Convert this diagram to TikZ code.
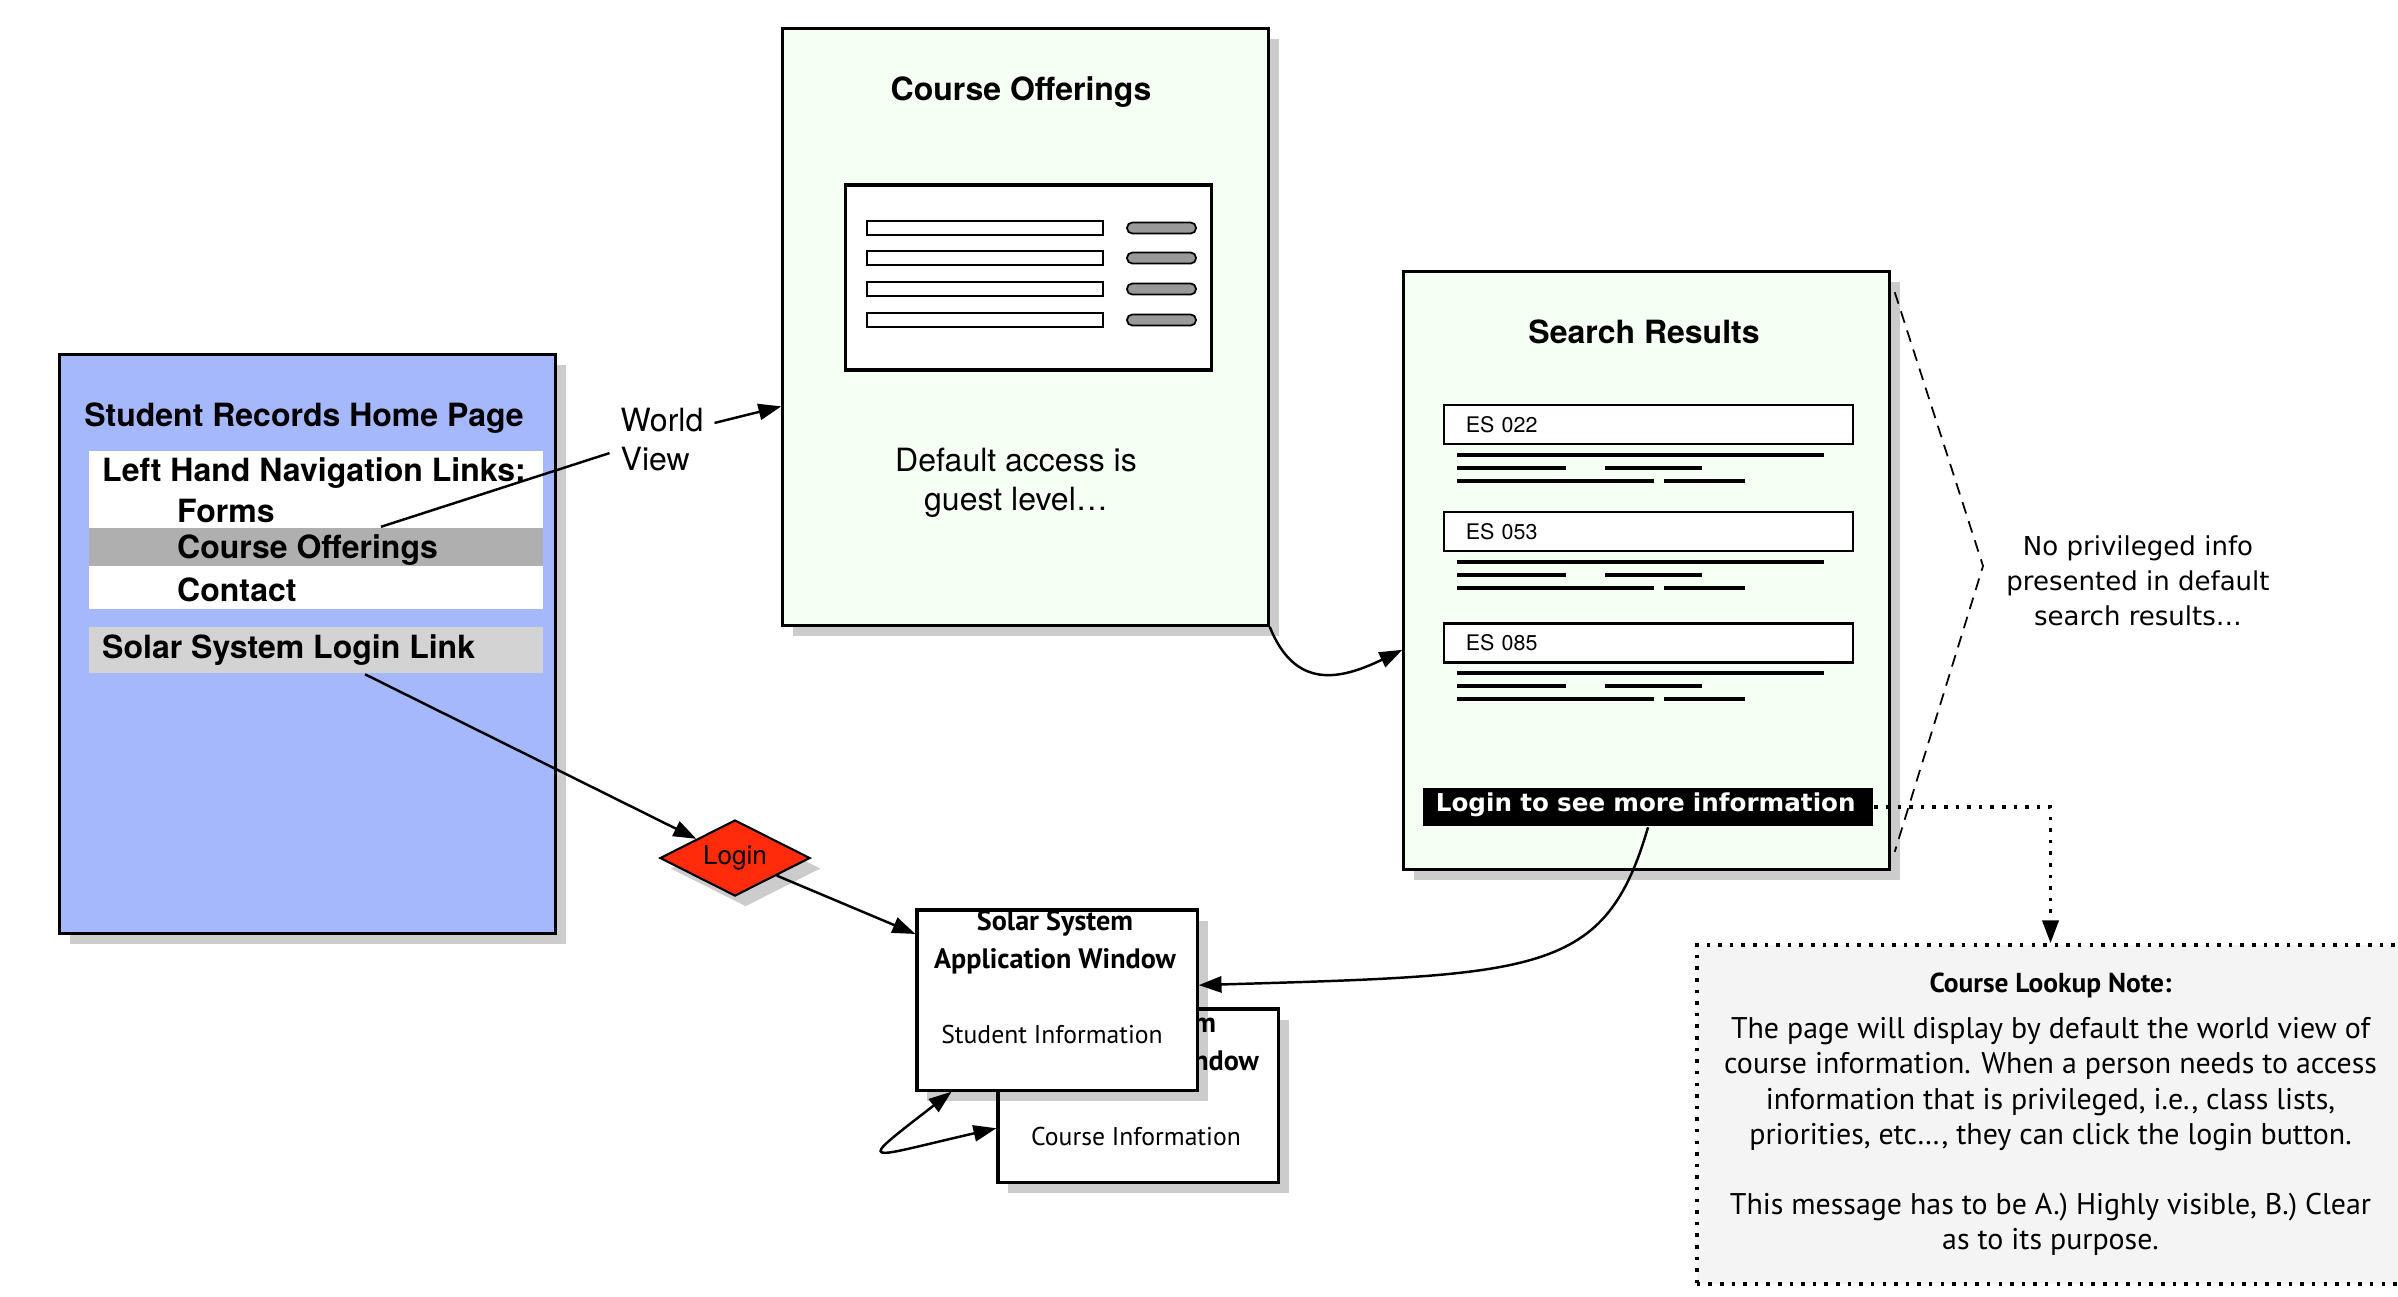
\documentclass[tikz,border=0pt]{standalone}
\usepackage{fontspec}
\setmainfont{TeX Gyre Heros}
\newfontfamily\lucidafont{DejaVu Sans}
\newfontfamily\gillfont{PT Sans}
\usetikzlibrary{shapes.geometric,shadows,arrows.meta,calc}

\definecolor{homeblue}{HTML}{A6B8FC}
\definecolor{pagegreen}{HTML}{F6FFF4}
\definecolor{rowgray}{HTML}{AFAFAF}
\definecolor{linkgray}{HTML}{D3D3D3}
\definecolor{pillgray}{HTML}{999999}
\definecolor{notegray}{HTML}{F4F4F4}
\definecolor{loginred}{HTML}{FF2B0A}

\newcommand{\hvbig}{\fontsize{9.1}{11.1}\selectfont}
\newcommand{\hvsmall}{\fontsize{6.1}{7.3}\selectfont}
\newcommand{\wintext}{\gillfont\fontsize{7.3}{10.8}\selectfont}
\newcommand{\wintitle}{\gillfont\bfseries\fontsize{8}{10.8}\selectfont}
\newcommand{\notetext}{\gillfont\fontsize{8.5}{10}\selectfont}

\tikzset{
  pageshadow/.style={drop shadow={shadow xshift=3pt,shadow yshift=-3pt,fill=black,opacity=0.2}},
  webpage/.style={draw,line width=0.9pt,fill=pagegreen,inner sep=0,pageshadow},
  homepage/.style={draw,line width=0.9pt,fill=homeblue,inner sep=0,pageshadow},
  appwindow/.style={draw,line width=0.9pt,fill=white,inner sep=0,
    minimum width=2.8cm,pageshadow},
  navrowbox/.style={minimum width=4.54cm,inner sep=0},
  esbox/.style={draw,fill=white,line width=0.6pt,text width=3.65cm,inner xsep=0.22cm,
    inner ysep=0,minimum height=0.39cm,align=left,font=\hvsmall},
  field/.style={draw,fill=white,line width=0.5pt},
  pill/.style={draw,fill=pillgray,line width=0.5pt,rounded corners=1.5pt},
  textline/.style={line width=0.9pt},
  loginbox/.style={diamond,draw,line width=0.6pt,fill=loginred,aspect=2,inner sep=0,
    minimum width=1.5cm,minimum height=0.76cm,font=\fontsize{7.4}{8}\selectfont,pageshadow},
  notebox/.style={draw,fill=notegray,dash pattern=on 1pt off 2.3pt,line width=1pt,
    align=center,font=\notetext},
  notelink/.style={dash pattern=on 1pt off 2.3pt,line width=1pt},
  bracket/.style={dash pattern=on 3.4pt off 2.3pt,line width=0.5pt}
}

\begin{document}
\begin{tikzpicture}[x=0.01cm,y=-0.01cm,>={Triangle[length=6.5pt,width=4.6pt]},line width=0.7pt]
  \useasboundingbox (0,0) rectangle (2398,1296);

  % student records home page
  \node[homepage,minimum width=4.95cm,minimum height=5.78cm] (home) at (307.5,644) {};
  \node[font=\hvbig\bfseries] (hometitle) at (304,418) {Student Records Home Page};
  \node[navrowbox,fill=white,minimum height=1.58cm] (navpanel) at (316,530) {};
  \node[navrowbox,fill=rowgray,minimum height=0.38cm] (navrow) at (316,547) {};
  \node[navrowbox,fill=linkgray,minimum height=0.46cm] (sslink) at (316,650) {};
  \node[anchor=west,inner sep=0,font=\hvbig\bfseries] (navhead) at (101,473) {Left Hand Navigation Links:};
  \node[anchor=west,inner sep=0,font=\hvbig\bfseries] (navforms) at (176,511) {Forms};
  \node[anchor=west,inner sep=0,font=\hvbig\bfseries] (navcourse) at (176,550) {Course Offerings};
  \node[anchor=west,inner sep=0,font=\hvbig\bfseries] (navcontact) at (176,590) {Contact};
  \node[anchor=west,inner sep=0,font=\hvbig\bfseries] (sslinktxt) at (101,650) {Solar System Login Link};

  % course offerings page
  \node[webpage,minimum width=4.85cm,minimum height=5.96cm] (offer) at (1025.5,327) {};
  \node[font=\hvbig\bfseries] (offertitle) at (1021,92) {Course Offerings};
  \node[draw,fill=white,line width=0.9pt,inner sep=0,minimum width=3.65cm,minimum height=1.85cm] (listwin) at (1028.5,277.5) {};
  \draw[field] (867,221) rectangle (1103,235);
  \draw[field] (867,251) rectangle (1103,265);
  \draw[field] (867,282) rectangle (1103,296);
  \draw[field] (867,313) rectangle (1103,327);
  \draw[pill] (1127,222.5) rectangle (1196,233.5);
  \draw[pill] (1127,252.5) rectangle (1196,263.5);
  \draw[pill] (1127,283.5) rectangle (1196,294.5);
  \draw[pill] (1127,314.5) rectangle (1196,325.5);
  \node[align=center,font=\hvbig] (guest) at (1016,483) {Default access is\\guest level…};

  % search results page
  \node[webpage,minimum width=4.85cm,minimum height=5.97cm] (results) at (1646.5,570.5) {};
  \node[font=\hvbig\bfseries] (resultstitle) at (1644,332) {Search Results};
  \node[esbox] (es1) at (1648.5,424.5) {ES 022};
  \draw[textline] (1457,455) -- (1824,455);
  \draw[textline] (1457,468) -- (1566,468);
  \draw[textline] (1605,468) -- (1702,468);
  \draw[textline] (1457,481) -- (1654,481);
  \draw[textline] (1664,481) -- (1745,481);
  \node[esbox] (es2) at (1648.5,531.5) {ES 053};
  \draw[textline] (1457,562) -- (1824,562);
  \draw[textline] (1457,575) -- (1566,575);
  \draw[textline] (1605,575) -- (1702,575);
  \draw[textline] (1457,588) -- (1654,588);
  \draw[textline] (1664,588) -- (1745,588);
  \node[esbox] (es3) at (1648.5,643) {ES 085};
  \draw[textline] (1457,673) -- (1824,673);
  \draw[textline] (1457,686) -- (1566,686);
  \draw[textline] (1605,686) -- (1702,686);
  \draw[textline] (1457,699) -- (1654,699);
  \draw[textline] (1664,699) -- (1745,699);
  \node[fill=black,text=white,inner ysep=0,inner xsep=0.13cm,text width=4.24cm,align=left,
    text height=0.23cm,text depth=0.15cm,font=\lucidafont\bfseries\fontsize{7}{8}\selectfont]
    (lbar) at (1648,807) {Login to see more information};

  % remark on the search results
  \coordinate (brk) at (1983,566);
  \draw[bracket] ($(results.north east)+(4,22)$) -- (brk) -- ($(results.south east)+(4,-19)$);
  \node[align=center,font=\lucidafont\fontsize{7.4}{10}\selectfont] (nopriv) at (2138,581)
    {No privileged info\\presented in default\\search results…};

  % world view label
  \node[align=left,inner sep=0.1cm,font=\hvbig] (wv) at (662,440) {World\\View};

  % login decision
  \node[loginbox] (login) at (735,858) {Login};

  % solar system windows
  \node[appwindow,minimum height=1.73cm] (appback) at (1138,1095.5) {};
  \node[anchor=north,align=center,inner sep=0,font=\wintitle] (backtitle) at (1138,1011)
    {Solar System\\Application Window};
  \node[inner sep=0,font=\wintext] (backinfo) at (1136,1136) {Course Information};
  \node[appwindow,minimum height=1.8cm] (appwin) at (1057,1000) {};
  \node[anchor=north,align=center,inner sep=0,font=\wintitle] (apptitle) at (1055,909)
    {Solar System\\Application Window};
  \node[inner sep=0,font=\wintext] (appinfo) at (1052,1034) {Student Information};

  % note
  \node[notebox,minimum width=7.07cm,minimum height=3.39cm] (note) at (2050.5,1114.5)
    {{\bfseries\fontsize{7.8}{10}\selectfont Course Lookup Note:}\\[3pt]
     The page will display by default the world view of\\
     course information. When a person needs to access\\
     information that is privileged, i.e., class lists,\\
     priorities, etc…, they can click the login button.\\[10pt]
     This message has to be A.) Highly visible, B.) Clear\\
     as to its purpose.};

  % connectors
  \draw ($(navrow.north)+(65,0)$) -- (wv.194);
  \draw[->] (wv.18) -- (offer.198);
  \draw[->] ($(sslink.south)+(49,0)$) -- (login);
  \draw[->] (login) -- (appwin.155);
  \draw[->] (offer.south east) .. controls (1295,690) and (1340,680) .. (results.198);
  \draw[->] (lbar.south) .. controls (1605,975) and (1540,975) .. (appwin.6);
  \draw[<->] (appwin.221) .. controls (853,1168) and (862,1159) .. (appback.193);
  \draw[notelink,->] (lbar.east) -| (note.north);
\end{tikzpicture}
\end{document}
